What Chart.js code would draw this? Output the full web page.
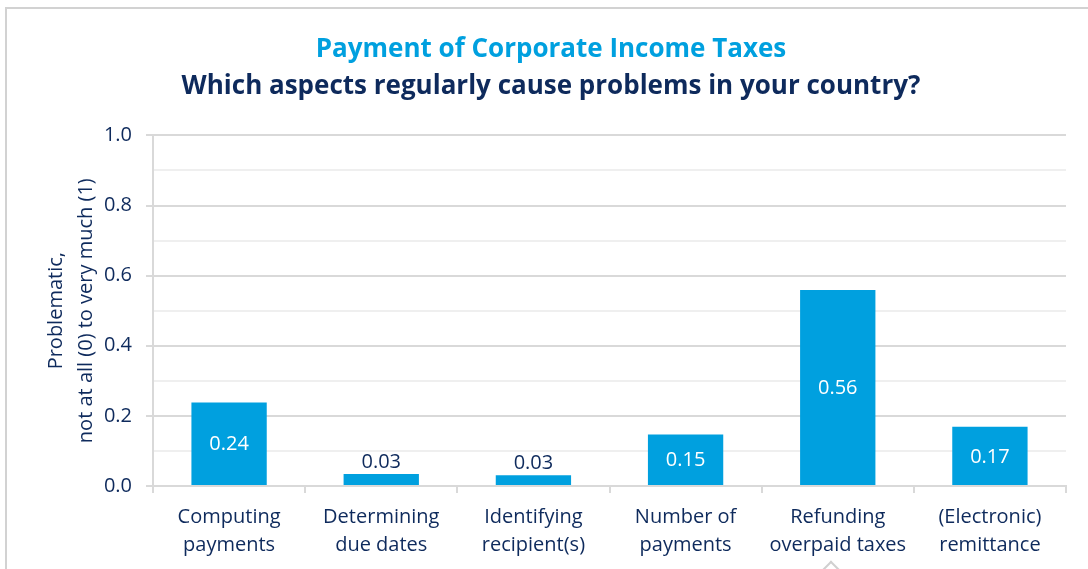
<!DOCTYPE html>
<html>
<head>
<meta charset="utf-8">
<script src="https://cdn.jsdelivr.net/npm/chart.js@4.4.1/dist/chart.umd.min.js"></script>
<style>
  html, body { margin: 0; padding: 0; background: #ffffff; overflow: hidden; }
  #wrap { position: relative; width: 1088px; height: 569px; }
  #frame { position: absolute; left: 5px; top: 7px; right: -10px; bottom: -10px;
           border-left: 2px solid #d2d2d2; border-top: 2px solid #d2d2d2; pointer-events: none; }
  #chev { position: absolute; left: 825px; top: 563px; width: 10px; height: 10px;
          border-left: 2px solid #d0d0d0; border-top: 2px solid #d0d0d0; transform: rotate(45deg); }
  canvas { position: absolute; left: 0; top: 0; }
</style>
</head>
<body>
<div id="wrap">
  <canvas id="c" width="1088" height="569"></canvas>
  <div id="frame"></div>
  <div id="chev"></div>
</div>
<script>
const titleText = "Payment of Corporate Income Taxes";
const subtitleText = "Which aspects regularly cause problems in your country?";
const categories = [
  ["Computing", "payments"],
  ["Determining", "due dates"],
  ["Identifying", "recipient(s)"],
  ["Number of", "payments"],
  ["Refunding", "overpaid taxes"],
  ["(Electronic)", "remittance"]
];
const values = [0.238, 0.034, 0.031, 0.147, 0.559, 0.169];
const yAxisTitle = ["Problematic,", "not at all (0) to very much (1)"];

const NAVY = "#0e2a5c";
const BLUE = "#00a0df";
const GRID_MAJOR = "#d9d9d9";
const GRID_MINOR = "#efefef";
const FONT = "'Open Sans', 'Noto Sans', sans-serif";

const valueLabels = {
  id: "valueLabels",
  afterDatasetsDraw(chart) {
    const ctx = chart.ctx;
    const meta = chart.getDatasetMeta(0);
    ctx.save();
    ctx.font = "20px " + FONT;
    ctx.textAlign = "center";
    meta.data.forEach((bar, i) => {
      const v = values[i];
      const txt = v.toFixed(2);
      const props = bar.getProps(["x", "y", "base"], true);
      const h = props.base - props.y;
      if (h > 30) {
        ctx.fillStyle = "#ffffff";
        ctx.textBaseline = "middle";
        ctx.fillText(txt, props.x, (props.y + props.base) / 2 + 1);
      } else {
        ctx.fillStyle = NAVY;
        ctx.textBaseline = "bottom";
        ctx.fillText(txt, props.x, props.y - 2);
      }
    });
    ctx.restore();
  }
};

new Chart(document.getElementById("c"), {
  type: "bar",
  data: {
    labels: categories,
    datasets: [{
      data: values,
      backgroundColor: BLUE,
      borderWidth: 0,
      barPercentage: 0.495,
      categoryPercentage: 1.0
    }]
  },
  options: {
    responsive: false,
    animation: false,
    devicePixelRatio: 1,
    layout: { padding: { left: 14, right: 0, top: 0, bottom: 0 } },
    plugins: {
      legend: { display: false },
      tooltip: { enabled: false },
      title: {
        display: true,
        text: titleText,
        color: BLUE,
        font: { family: FONT, size: 26, weight: "bold", lineHeight: 1.2 },
        padding: { top: 34, bottom: 3 }
      },
      subtitle: {
        display: true,
        text: subtitleText,
        color: NAVY,
        font: { family: FONT, size: 26, weight: "bold", lineHeight: 1.2 },
        padding: { top: 3, bottom: 33 }
      }
    },
    scales: {
      x: {
        grid: {
          display: true,
          drawOnChartArea: false,
          drawTicks: true,
          tickLength: 7,
          tickColor: GRID_MAJOR,
          lineWidth: 2,
          offset: true
        },
        border: { display: true, color: GRID_MAJOR, width: 2 },
        ticks: {
          color: NAVY,
          font: { family: FONT, size: 20, lineHeight: 1.4 },
          padding: 10,
          maxRotation: 0,
          autoSkip: false
        },
        afterFit(s) { s.height = 83; }
      },
      y: {
        min: 0,
        max: 1.0,
        grid: {
          color: (c) => (c.index % 2 === 0 ? GRID_MAJOR : GRID_MINOR),
          tickColor: (c) => (c.index % 2 === 0 ? GRID_MAJOR : "rgba(0,0,0,0)"),
          lineWidth: 2,
          tickLength: 7
        },
        border: { display: true, color: GRID_MAJOR, width: 2 },
        ticks: {
          stepSize: 0.1,
          color: NAVY,
          font: { family: FONT, size: 20 },
          padding: 14,
          callback: (v, i) => (i % 2 === 0 ? Number(v).toFixed(1) : "")
        },
        title: {
          display: true,
          text: yAxisTitle,
          color: NAVY,
          font: { family: FONT, size: 20, lineHeight: 1.5 },
          padding: { top: 27, bottom: 0 }
        },
        afterFit(s) { s.width = 139; }
      },
      yRight: {
        position: "right",
        display: true,
        grid: { display: false, drawTicks: false },
        border: { display: false },
        ticks: { display: false },
        afterFit(s) { s.width = 22; }
      }
    }
  },
  plugins: [valueLabels]
});
</script>
</body>
</html>
